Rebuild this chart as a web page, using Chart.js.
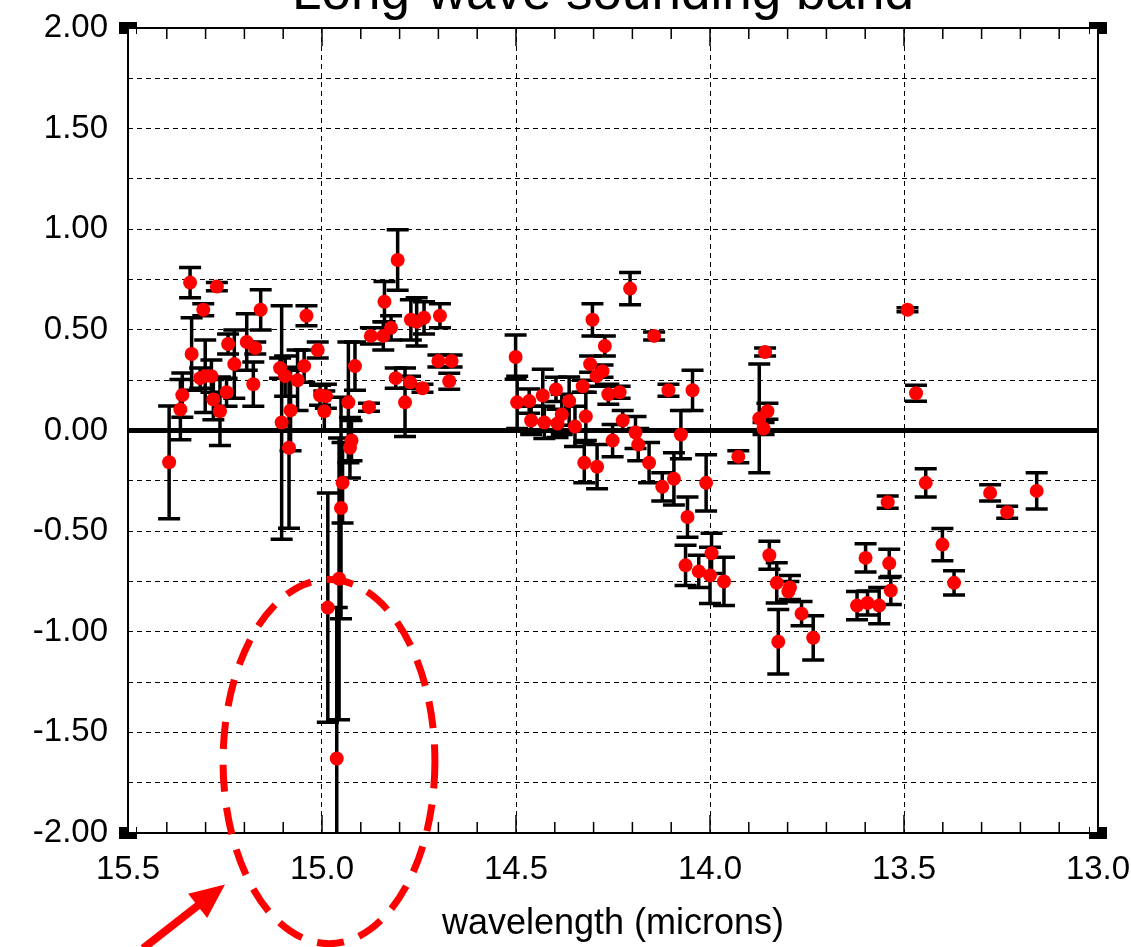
<!DOCTYPE html>
<html>
<head>
<meta charset="utf-8">
<script src="https://cdn.jsdelivr.net/npm/chart.js@4"></script>
<style>
    html, body { margin: 0; padding: 0; background: #fff; overflow: hidden; }
    #wrap { position: relative; width: 1131px; height: 947px; }
    #title {
        position: absolute; top: -36px; left: 603px; transform: translateX(-50%);
        font: 53px/53px "Liberation Sans", Arial, sans-serif; white-space: nowrap; color: #000;
    }
    canvas { position: absolute; left: 0; top: 0; }
</style>
</head>
<body>
<div id="wrap">
    <canvas id="bandChart" width="1131" height="947"></canvas>
    <div id="title">Long-wave sounding band</div>
</div>
<script>
// wavelength (microns), value, error half-length
const wavelength = [
    15.394, 15.365, 15.360, 15.340, 15.336, 15.314, 15.306, 15.301, 15.285, 15.280,
    15.271, 15.263, 15.246, 15.242, 15.226, 15.194, 15.177, 15.172, 15.158, 15.108,
    15.104, 15.095, 15.085, 15.081, 15.063, 15.046, 15.040, 15.011, 15.005, 14.994,
    14.990, 14.985, 14.962, 14.956, 14.951, 14.947, 14.932, 14.928, 14.924, 14.915,
    14.879, 14.874, 14.842, 14.839, 14.822, 14.810, 14.805, 14.786, 14.773, 14.771,
    14.756, 14.741, 14.737, 14.700, 14.696, 14.672, 14.666, 14.501, 14.497, 14.466,
    14.461, 14.431, 14.427, 14.397, 14.393, 14.382, 14.363, 14.348, 14.328, 14.324,
    14.320, 14.309, 14.303, 14.292, 14.291, 14.277, 14.271, 14.262, 14.251, 14.233,
    14.225, 14.206, 14.192, 14.185, 14.157, 14.144, 14.123, 14.107, 14.093, 14.075,
    14.063, 14.058, 14.045, 14.029, 14.010, 14.000, 13.996, 13.964, 13.927, 13.873,
    13.862, 13.858, 13.852, 13.847, 13.828, 13.824, 13.798, 13.794, 13.764, 13.734,
    13.621, 13.599, 13.594, 13.564, 13.542, 13.538, 13.534, 13.491, 13.469, 13.444,
    13.401, 13.371, 13.278, 13.234, 13.158
];
const delta = [
    -0.158, 0.104, 0.176, 0.735, 0.380, 0.260, 0.600, 0.270, 0.270, 0.154,
    0.715, 0.096, 0.190, 0.430, 0.330, 0.440, 0.230, 0.410, 0.600, 0.310,
    0.040, 0.270, -0.086, 0.100, 0.250, 0.320, 0.570, 0.400, 0.175, 0.096,
    0.170, -0.880, -1.630, -0.737, -0.385, -0.260, 0.140, -0.086, -0.050, 0.320,
    0.116, 0.470, 0.470, 0.640, 0.510, 0.260, 0.847, 0.140, 0.240, 0.550,
    0.540, 0.210, 0.560, 0.345, 0.570, 0.245, 0.345, 0.365, 0.140, 0.146,
    0.050, 0.174, 0.040, 0.204, 0.035, 0.080, 0.146, 0.020, 0.220, -0.160,
    0.070, 0.330, 0.550, 0.270, -0.180, 0.295, 0.420, 0.180, -0.050, 0.190,
    0.050, 0.705, -0.010, -0.070, -0.160, 0.470, -0.280, 0.200, -0.240, -0.020,
    -0.670, -0.430, 0.200, -0.700, -0.260, -0.720, -0.610, -0.750, -0.130, 0.060,
    0.010, 0.390, 0.096, -0.620, -0.757, -1.050, -0.800, -0.780, -0.910, -1.030,
    -0.870, -0.633, -0.857, -0.870, -0.356, -0.660, -0.795, 0.600, 0.185, -0.260,
    -0.567, -0.757, -0.310, -0.406, -0.300
];
const errBar = [
    0.28, 0.15, 0.11, 0.075, 0.18, 0.05, 0.03, 0.18, 0.08, 0.10,
    0.02, 0.17, 0.07, 0.05, 0.17, 0.14, 0.11, 0.03, 0.10, 0.05,
    0.58, 0.10, 0.40, 0.20, 0.15, 0.08, 0.05, 0.04, 0.05, 0.10,
    0.06, 0.57, 0.75, 0.70, 0.55, 0.20, 0.30, 0.15, 0.10, 0.12,
    0.02, 0.04, 0.07, 0.10, 0.06, 0.05, 0.15, 0.17, 0.03, 0.10,
    0.12, 0.02, 0.08, 0.03, 0.06, 0.04, 0.03, 0.11, 0.13, 0.06,
    0.07, 0.13, 0.08, 0.06, 0.07, 0.10, 0.12, 0.10, 0.03, 0.10,
    0.12, 0.04, 0.08, 0.05, 0.11, 0.03, 0.05, 0.05, 0.08, 0.03,
    0.05, 0.08, 0.08, 0.08, 0.10, 0.02, 0.07, 0.03, 0.13, 0.12,
    0.10, 0.10, 0.10, 0.08, 0.14, 0.14, 0.10, 0.12, 0.03, 0.27,
    0.03, 0.02, 0.04, 0.07, 0.10, 0.16, 0.05, 0.06, 0.06, 0.11,
    0.07, 0.07, 0.06, 0.09, 0.03, 0.07, 0.07, 0.01, 0.04, 0.07,
    0.08, 0.06, 0.04, 0.03, 0.09
];

// red dashed ring and arrow, in data units
const ring = { x: 14.982, y: -1.645, rx: 0.273, ry: 0.905 };
const arrow = { fromX: 15.461, fromY: -2.573, toX: 15.25, toY: -2.256 };

const labelFont = { family: "'Liberation Sans', Arial, sans-serif", size: 33 };

const errorBars = {
    id: 'errorBars',
    beforeDatasetsDraw(chart) {
        const { ctx, chartArea: a, scales: { x, y } } = chart;
        ctx.save();
        ctx.beginPath();
        ctx.rect(a.left, a.top, a.right - a.left, a.bottom - a.top);
        ctx.clip();

        // zero line
        const y0 = y.getPixelForValue(0);
        ctx.strokeStyle = '#000';
        ctx.lineWidth = 5;
        ctx.beginPath();
        ctx.moveTo(a.left, y0);
        ctx.lineTo(a.right, y0);
        ctx.stroke();

        ctx.lineWidth = 3.5;
        wavelength.forEach((w, i) => {
            const px = x.getPixelForValue(w);
            const top = y.getPixelForValue(delta[i] + errBar[i]);
            const bot = y.getPixelForValue(delta[i] - errBar[i]);
            ctx.beginPath();
            ctx.moveTo(px, top); ctx.lineTo(px, bot);
            ctx.moveTo(px - 11, top); ctx.lineTo(px + 11, top);
            ctx.moveTo(px - 11, bot); ctx.lineTo(px + 11, bot);
            ctx.stroke();
        });
        ctx.restore();
    }
};

const frame = {
    id: 'frame',
    afterDraw(chart) {
        const { ctx, chartArea: a, scales: { x, y } } = chart;
        ctx.save();
        ctx.strokeStyle = '#000';
        ctx.lineWidth = 2;
        ctx.strokeRect(a.left, a.top, a.right - a.left, a.bottom - a.top);

        // inward ticks every 0.1 micron
        ctx.lineWidth = 1.5;
        for (let k = 130; k <= 155; k++) {
            const px = x.getPixelForValue(k / 10);
            const len = k % 5 === 0 ? 18 : 11;
            ctx.beginPath();
            ctx.moveTo(px, a.top); ctx.lineTo(px, a.top + len);
            ctx.moveTo(px, a.bottom); ctx.lineTo(px, a.bottom - len);
            ctx.stroke();
        }

        // corner squares
        [[a.left, a.top, 1, 1], [a.right, a.top, -1, 1], [a.left, a.bottom, 1, -1], [a.right, a.bottom, -1, -1]]
            .forEach(([cx, cy, sx, sy]) => {
                ctx.fillStyle = '#000';
                ctx.fillRect(cx - 9, cy - 6, 18, 12);
                ctx.fillStyle = '#fff';
                ctx.fillRect(sx > 0 ? cx + 1 : cx - 8, sy > 0 ? cy + 1 : cy - 6, 7, 5);
                ctx.strokeStyle = '#000';
                ctx.lineWidth = 2;
                ctx.beginPath();
                ctx.moveTo(cx, cy); ctx.lineTo(cx + sx * 10, cy);
                ctx.moveTo(cx, cy); ctx.lineTo(cx, cy + sy * 10);
                ctx.stroke();
            });

        // highlight ring
        const cx = x.getPixelForValue(ring.x), cy = y.getPixelForValue(ring.y);
        const rx = Math.abs(x.getPixelForValue(ring.x + ring.rx) - cx);
        const ry = Math.abs(y.getPixelForValue(ring.y + ring.ry) - cy);
        ctx.strokeStyle = '#ff0000';
        ctx.lineWidth = 7;
        ctx.setLineDash([27, 16]);
        ctx.beginPath();
        ctx.ellipse(cx, cy, rx, ry, 0, 0, Math.PI * 2);
        ctx.stroke();
        ctx.setLineDash([]);

        // arrow
        const x1 = x.getPixelForValue(arrow.fromX), y1 = y.getPixelForValue(arrow.fromY);
        const x2 = x.getPixelForValue(arrow.toX), y2 = y.getPixelForValue(arrow.toY);
        const ang = Math.atan2(y2 - y1, x2 - x1);
        const head = 38;
        ctx.lineWidth = 8;
        ctx.beginPath();
        ctx.moveTo(x1, y1);
        ctx.lineTo(x2 - Math.cos(ang) * head * 0.8, y2 - Math.sin(ang) * head * 0.8);
        ctx.stroke();
        ctx.fillStyle = '#ff0000';
        ctx.beginPath();
        ctx.moveTo(x2, y2);
        ctx.lineTo(x2 - head * Math.cos(ang - 0.42), y2 - head * Math.sin(ang - 0.42));
        ctx.lineTo(x2 - head * Math.cos(ang + 0.42), y2 - head * Math.sin(ang + 0.42));
        ctx.closePath();
        ctx.fill();
        ctx.restore();
    }
};

const points = wavelength.map((w, i) => ({ x: w, y: delta[i] }));

new Chart(document.getElementById('bandChart'), {
    type: 'scatter',
    data: {
        datasets: [{
            data: points,
            pointRadius: 7,
            pointHoverRadius: 7,
            backgroundColor: '#ff0000',
            borderWidth: 0
        }]
    },
    options: {
        responsive: false,
        animation: false,
        layout: { padding: { top: 28, right: 33, left: 0, bottom: 0 } },
        plugins: {
            legend: { display: false },
            tooltip: { enabled: false }
        },
        scales: {
            x: {
                type: 'linear',
                reverse: true,
                min: 13,
                max: 15.5,
                afterFit: s => { s.height = 114; s.paddingLeft = 0; s.paddingRight = 0; },
                ticks: {
                    stepSize: 0.5,
                    padding: 17,
                    color: '#000',
                    font: labelFont,
                    maxRotation: 0,
                    callback: v => v.toFixed(1)
                },
                grid: { color: '#000', lineWidth: 1, drawTicks: false },
                border: { display: false, dash: [5, 4] },
                title: {
                    display: true,
                    text: 'wavelength (microns)',
                    color: '#000',
                    font: { family: labelFont.family, size: 36 },
                    padding: { top: 0, bottom: 1 }
                }
            },
            y: {
                min: -2,
                max: 2,
                afterFit: s => { s.width = 128; s.paddingTop = 0; s.paddingBottom = 0; },
                ticks: {
                    stepSize: 0.25,
                    padding: 20,
                    color: '#000',
                    font: labelFont,
                    autoSkip: false,
                    callback: v => (Math.abs(v * 2 - Math.round(v * 2)) < 1e-6 ? v.toFixed(2) : '')
                },
                grid: { color: '#000', lineWidth: 1, drawTicks: false },
                border: { display: false, dash: [5, 4] }
            }
        }
    },
    plugins: [errorBars, frame]
});
</script>
</body>
</html>
